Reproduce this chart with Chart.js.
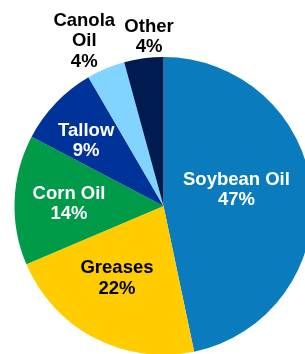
<!DOCTYPE html>
<html>
<head>
<meta charset="utf-8">
<script src="https://cdn.jsdelivr.net/npm/chart.js@4"></script>
<style>
    html, body { margin: 0; padding: 0; background: #fff; overflow: hidden; width: 305px; height: 354px; }
    #pie { display: block; }
</style>
</head>
<body>
<canvas id="pie" width="330" height="370"></canvas>
<script>
// feedstock shares, % (slice sizes, labels show them rounded)
const categories = ['Soybean Oil', 'Greases', 'Corn Oil', 'Tallow', 'Canola Oil', 'Other'];
const shares = [46.7, 21.9, 14.1, 8.9, 4.15, 4.25];
const labelLines = [['Soybean Oil'], ['Greases'], ['Corn Oil'], ['Tallow'], ['Canola', 'Oil'], ['Other']];

const sliceColors = ['#0A7CBD', '#FFCC00', '#009B48', '#003399', '#80D4FF', '#001B50'];
const labelColors = ['#fff', '#000', '#fff', '#fff', '#000', '#000'];
// where each label sits: distance from centre and angle nudge (deg) off the slice middle
const labelPlacement = [
    { r: 74.7, turn: -6.5 },
    { r: 86, turn: 5.2 },
    { r: 94.5, turn: -1.1 },
    { r: 101, turn: -3.7 },
    { r: 183, turn: -2.9 },
    { r: 169.5, turn: 2.75 }
];

const sliceLabels = {
    id: 'sliceLabels',
    afterDatasetsDraw(chart) {
        const ctx = chart.ctx;
        const arcs = chart.getDatasetMeta(0).data;
        ctx.save();
        ctx.font = 'bold 18.5px "Liberation Sans", Arial, sans-serif';
        ctx.textAlign = 'center';
        ctx.textBaseline = 'middle';
        arcs.forEach((arc, i) => {
            const p = labelPlacement[i];
            const mid = (arc.startAngle + arc.endAngle) / 2 + p.turn * Math.PI / 180;
            const cx = arc.x + Math.cos(mid) * p.r;
            const cy = arc.y + Math.sin(mid) * p.r;
            const lines = labelLines[i].concat([Math.round(shares[i]) + '%']);
            const lh = 20.5;
            const top = cy - (lines.length - 1) * lh / 2;
            ctx.fillStyle = labelColors[i];
            lines.forEach((t, k) => ctx.fillText(t, cx, top + k * lh));
        });
        ctx.restore();
    }
};

new Chart(document.getElementById('pie'), {
    type: 'pie',
    data: {
        labels: categories,
        datasets: [{
            data: shares,
            backgroundColor: sliceColors,
            borderWidth: 0
        }]
    },
    options: {
        responsive: false,
        animation: false,
        devicePixelRatio: 1,
        layout: { padding: { left: 14.5, top: 57, right: 17.5, bottom: 15 } },
        plugins: {
            legend: { display: false },
            tooltip: { enabled: false }
        }
    },
    plugins: [sliceLabels]
});
</script>
</body>
</html>
